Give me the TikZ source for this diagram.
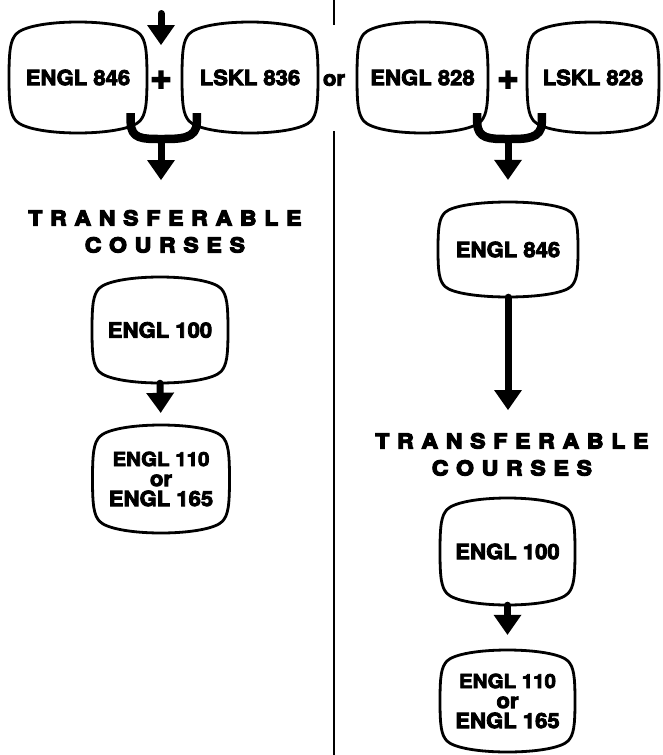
\documentclass[tikz,border=0pt]{standalone}
\usepackage{fontspec}
\setmainfont{TeX Gyre Heros}
\newfontfamily\boxfont{texgyreheros-bold.otf}[FakeStretch=1.05,FakeBold=4]
\newfontfamily\titlefont{texgyreheros-bold.otf}[FakeStretch=1.12,FakeBold=6,LetterSpace=38]
\newfontfamily\plusfont{texgyreheros-bold.otf}[FakeBold=5]
\usetikzlibrary{arrows.meta,calc}
\newcommand\pillow[6]{%
  \node[boxtext, minimum width=#4pt, minimum height=#5pt] (#1) at (#2,#3) {#6};
  \begin{scope}[shift={(#2,#3)}, x={(#4/2,0)}, y={(0,-#5/2)}]
  \draw[boxline] (-1,0) .. controls (-1,0.5) and (-0.98,0.66) .. (-0.9,0.78)
    .. controls (-0.8,0.92) and (-0.42,1) .. (0,1)
    .. controls (0.42,1) and (0.8,0.92) .. (0.9,0.78)
    .. controls (0.98,0.66) and (1,0.5) .. (1,0)
    .. controls (1,-0.5) and (0.98,-0.66) .. (0.9,-0.78)
    .. controls (0.8,-0.92) and (0.42,-1) .. (0,-1)
    .. controls (-0.42,-1) and (-0.8,-0.92) .. (-0.9,-0.78)
    .. controls (-0.98,-0.66) and (-1,-0.5) .. cycle;
  \end{scope}
}
\tikzset{
  boxline/.style={line width=2.8pt, line join=round},
  boxtext/.style={font=\boxfont\fontsize{21}{20}\selectfont, align=center, inner sep=0pt},
  sym/.style={font=\plusfont\fontsize{36}{36}\selectfont, inner sep=0pt},
  orlbl/.style={font=\boxfont\fontsize{21}{20}\selectfont, inner sep=0pt},
  title/.style={font=\titlefont\fontsize{20.5}{27}\selectfont, align=center, inner sep=0pt},
  sepline/.style={line width=1.5pt},
  fork/.style={line width=8.5pt, line cap=butt, line join=round},
  bigarrow/.style={line width=7pt, line cap=round, -{Triangle[width=28pt,length=20pt,line width=0pt]}}
}
\begin{document}
\begin{tikzpicture}[x=1pt,y=-1pt]
\useasboundingbox (0,0) rectangle (663,755);
% boxes
\pillow{A}{78}{77.5}{138}{111}{ENGL 846}
\pillow{B}{250}{77.5}{136}{111}{LSKL 836}
\pillow{C}{422.5}{77.5}{131}{111}{ENGL 828}
\pillow{D}{593}{77.5}{132}{111}{LSKL 828}
\pillow{E}{508}{249.5}{140}{95}{ENGL 846}
\pillow{F}{160}{330}{136}{106}{ENGL 100}
\pillow{G}{161}{479}{137}{108}{\fontsize{19.5}{20}\selectfont ENGL 110\\or\\ENGL 165}
\pillow{H}{507.5}{551.5}{135}{107}{ENGL 100}
\pillow{I}{507.5}{701}{135}{102}{\fontsize{19.5}{20}\selectfont ENGL 110\\or\\ENGL 165}
% symbols
\node[sym] (pL) at (161,80) {+};
\node[sym] (pR) at (508,80) {+};
\node[orlbl] (orl) at (334,80) {or};
% titles
\node[title, anchor=north] (T1) at (161,210) {TRANSFERABLE\kern-.38em\\COURSES\kern-.38em};
\node[title, anchor=north] (T2) at (508,433) {TRANSFERABLE\kern-.38em\\COURSES\kern-.38em};
% separator
\coordinate (s0) at (334,0);
\coordinate (s1) at (334,25);
\coordinate (s2) at (334,131);
\coordinate (s3) at (334,755);
\draw[sepline] (s0) -- (s1);
\draw[sepline] (s2) -- (s3);
% incoming arrow
\coordinate (in0) at (161,13.5);
\coordinate (in1) at (161,45);
\draw[bigarrow] (in0) -- (in1);
% left fork
\coordinate (jL) at (161,139);
\draw[fork] ($(A.south east)+(-16.5,-20)$) -- ($(A.south east)+(-16.5,-11)$)
  .. controls ($(A.south east)+(-16.5,6)$) and (143,139) .. (jL)
  .. controls (180,139) and ($(B.south west)+(15,6)$) .. ($(B.south west)+(15,-11)$)
  -- ($(B.south west)+(15,-20)$);
\draw[bigarrow, shorten >=30pt] (jL) -- (T1.north);
% right fork
\coordinate (jR) at (508,139);
\draw[fork] ($(C.south east)+(-11,-20)$) -- ($(C.south east)+(-11,-11)$)
  .. controls ($(C.south east)+(-11,6)$) and (490,139) .. (jR)
  .. controls (526,139) and ($(D.south west)+(15,6)$) .. ($(D.south west)+(15,-11)$)
  -- ($(D.south west)+(15,-20)$);
\draw[bigarrow, shorten >=22pt] (jR) -- (E.north);
% other arrows
\draw[bigarrow, shorten >=23pt] (E.south) -- (T2.north);
\draw[bigarrow, shorten >=12pt] (F.south) -- (G.north);
\draw[bigarrow, shorten >=15pt] (H.south) -- (I.north);
\end{tikzpicture}
\end{document}
